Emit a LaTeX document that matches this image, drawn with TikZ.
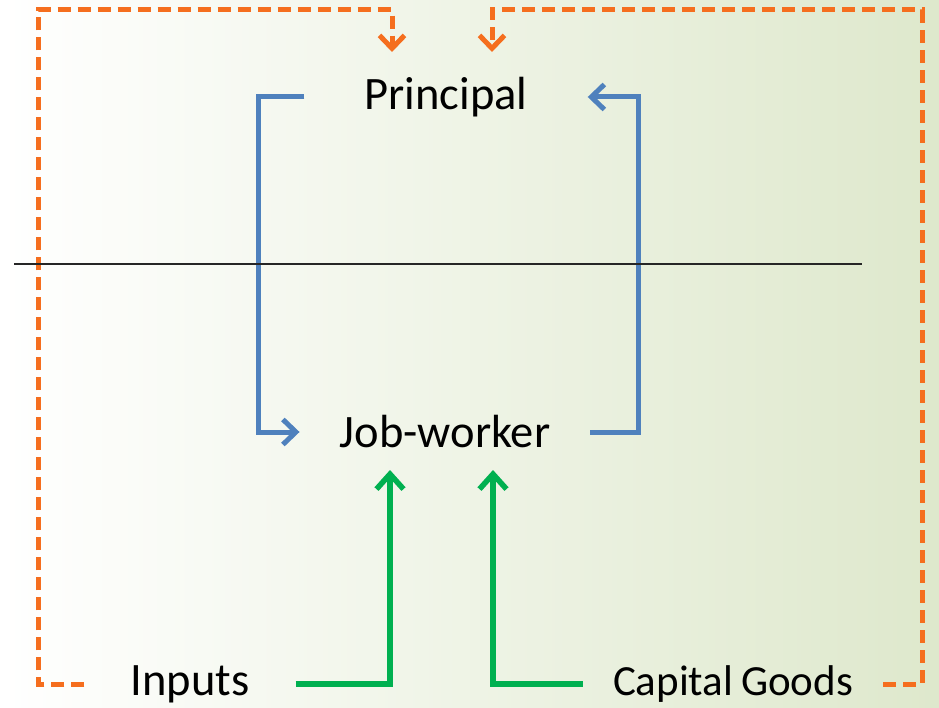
\documentclass[tikz,border=0pt]{standalone}
\usepackage{fontspec}
\setmainfont{Carlito}
\usetikzlibrary{shapes, arrows.meta}

\definecolor{bgGreen}{RGB}{222,232,204}
\definecolor{flowBlue}{RGB}{79,129,189}
\definecolor{flowOrange}{RGB}{245,110,30}
\definecolor{flowGreen}{RGB}{0,176,80}

\begin{document}
\begin{tikzpicture}[x=1pt,y=-1pt,>={Straight Barb[length=13pt,width=25pt]},
                     label node/.style={inner ysep=0pt,font=\fontsize{46.5}{50}\selectfont},
                     blue flow/.style={->,draw=flowBlue,line width=5pt},
                     green flow/.style={-{Straight Barb[length=15pt,width=27pt]},draw=flowGreen,line width=5.5pt},
                     orange flow/.style={->,draw=flowOrange,line width=5pt,dash pattern=on 13pt off 7pt}]

  % background
  \shade[left color=white,middle color=bgGreen!12!white,right color=bgGreen] (0,0) rectangle (939,708);
  \useasboundingbox (0,0) rectangle (939,708);

  \node[label node,inner xsep=60pt] (principal) at (446,97) {Principal};
  \node[label node,inner xsep=40pt] (jobworker) at (445,432) {Job-worker};
  \node[label node,inner xsep=46pt] (inputs) at (190,684) {Inputs};
  \node[label node,inner xsep=30pt,font=\fontsize{43}{50}\selectfont] (capital) at (733,684) {Capital\hspace{-2pt} Goods};

  \coordinate (topL) at (392,52);
  \coordinate (topR) at (492,52);
  \coordinate (botL) at (390,470);
  \coordinate (botR) at (493,470);

  % goods between principal and job-worker
  \draw[blue flow] (principal.west) -| (258,265) |- (jobworker.west);
  \draw[blue flow] (jobworker.east) -| (638,265) |- (principal.east);

  % inputs and capital goods
  \draw[green flow] (inputs.east) -| (botL);
  \draw[green flow] (capital.west) -| (botR);

  % direct supply
  \draw[orange flow] (inputs.west) -| (38,10) -| (topL);
  \draw[orange flow] (capital.east) -| (922,10) -| (topR);

  \draw[line width=1.6pt,black!85] (14,264) -- (862,264);
\end{tikzpicture}
\end{document}
